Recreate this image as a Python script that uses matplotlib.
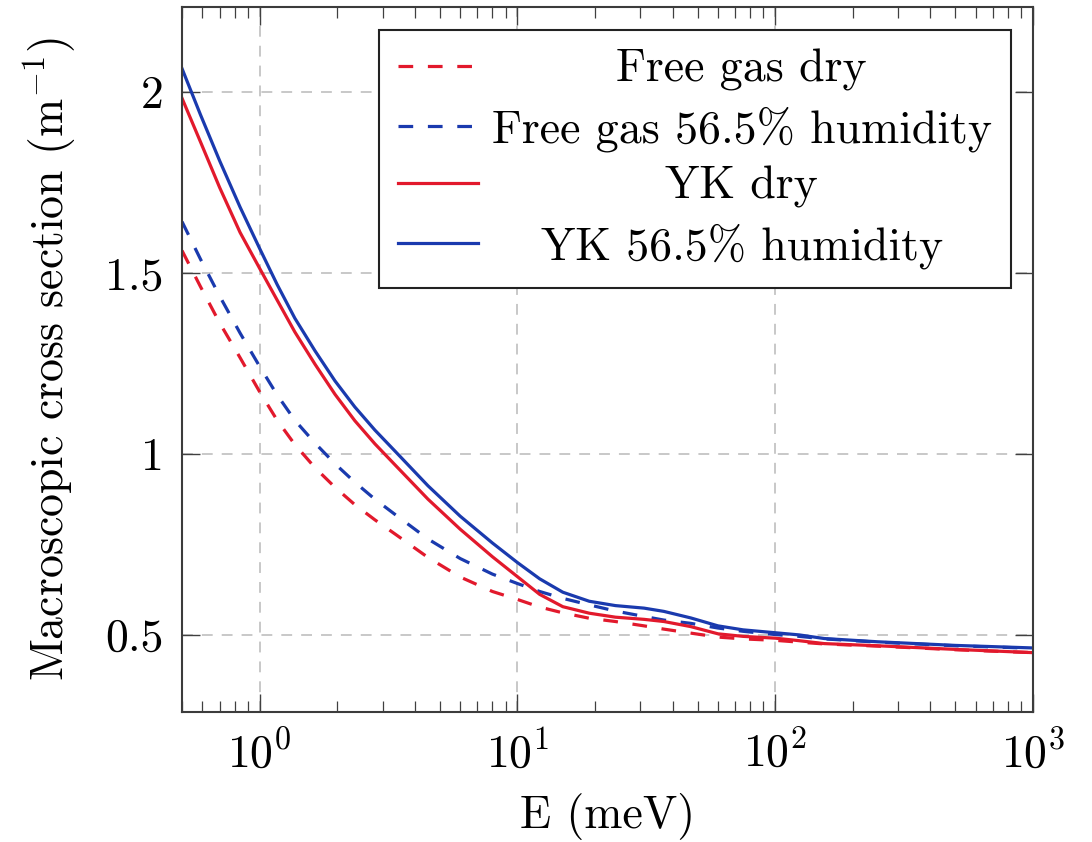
import matplotlib
matplotlib.use("Agg")
import matplotlib.pyplot as plt
import numpy as np
from matplotlib.ticker import LogLocator, FixedLocator, FuncFormatter, NullFormatter

plt.rcParams['font.family'] = 'cmr10'
plt.rcParams['mathtext.fontset'] = 'cm'
plt.rcParams['axes.formatter.use_mathtext'] = True

# energy grid (meV)
energy = [0.5, 0.59, 0.7, 0.84, 1.0, 1.17, 1.37, 1.64, 1.96, 2.34, 2.8, 3.35, 4.5, 6.0, 8.0,
          10.0, 12.2, 15.0, 19.0, 24.0, 31.0, 37.0, 47.0, 60.0, 75.0, 100.0, 124.0, 155.0,
          250.0, 500.0, 1000.0]

free_gas_dry = [1.562, 1.462, 1.362, 1.266, 1.172, 1.093, 1.026, 0.962, 0.908, 0.860, 0.818, 0.779,
                0.714, 0.660, 0.620, 0.598, 0.577, 0.561, 0.546, 0.537, 0.525, 0.516, 0.505, 0.494,
                0.489, 0.485, 0.480, 0.475, 0.469, 0.459, 0.451]
free_gas_humid = [1.642, 1.538, 1.436, 1.334, 1.242, 1.163, 1.093, 1.030, 0.973, 0.922, 0.875, 0.833,
                  0.765, 0.711, 0.668, 0.642, 0.620, 0.601, 0.583, 0.566, 0.551, 0.541, 0.532, 0.519,
                  0.510, 0.501, 0.496, 0.489, 0.480, 0.470, 0.463]
yk_dry = [1.983, 1.862, 1.736, 1.612, 1.513, 1.425, 1.337, 1.248, 1.165, 1.092, 1.028, 0.970,
          0.875, 0.792, 0.716, 0.661, 0.612, 0.578, 0.560, 0.549, 0.543, 0.537, 0.523, 0.503,
          0.496, 0.491, 0.484, 0.476, 0.470, 0.460, 0.451]
yk_humid = [2.065, 1.937, 1.810, 1.682, 1.568, 1.468, 1.375, 1.285, 1.202, 1.130, 1.066, 1.008,
            0.912, 0.828, 0.754, 0.700, 0.655, 0.618, 0.593, 0.581, 0.574, 0.565, 0.547, 0.525,
            0.514, 0.506, 0.500, 0.490, 0.481, 0.471, 0.464]

labels = ['Free gas dry', 'Free gas 56.5% humidity', 'YK dry', 'YK 56.5% humidity']
y_ticks = [0.5, 1.0, 1.5, 2.0]

RED = '#e2192c'
BLUE = '#1a3aae'
FS = 33

fig = plt.figure(figsize=(10.92, 8.42), dpi=100)
ax = fig.add_axes([182 / 1092, 1 - 712 / 842, 851 / 1092, 705 / 842])

dash = (0, (4.6, 4.6))
ax.plot(energy, free_gas_dry, color=RED, lw=2.3, ls=dash, label=labels[0])
ax.plot(energy, free_gas_humid, color=BLUE, lw=2.3, ls=dash, label=labels[1])
ax.plot(energy, yk_dry, color=RED, lw=2.3, label=labels[2])
ax.plot(energy, yk_humid, color=BLUE, lw=2.3, label=labels[3])

ax.set_xscale('log')
ax.set_xlim(0.5, 1000)
ax.set_ylim(0.287, 2.235)

ax.xaxis.set_major_locator(LogLocator(base=10, numticks=10))
ax.xaxis.set_minor_locator(LogLocator(base=10, subs=np.arange(2, 10), numticks=20))
ax.xaxis.set_minor_formatter(NullFormatter())
ax.yaxis.set_major_locator(FixedLocator(y_ticks))
ax.yaxis.set_major_formatter(FuncFormatter(lambda v, p: '%g' % v))

ax.tick_params(which='both', direction='in', top=True, right=True, colors='#404040',
               labelcolor='black', labelsize=FS)
ax.tick_params(which='major', length=13, width=1.0, pad=13)
ax.tick_params(which='minor', length=8, width=0.9)

ax.grid(True, which='major', color='#c4c4c4', lw=1.3, ls=(0, (6, 5)))
ax.set_axisbelow(True)
for s in ax.spines.values():
    s.set_color('#3c3c3c')
    s.set_linewidth(1.5)

ax.set_xlabel('E (meV)', fontsize=FS, labelpad=12)
ax.set_ylabel('Macroscopic cross section (m$^{-1}$)', fontsize=FS, labelpad=20)

leg = ax.legend(loc='upper right', bbox_to_anchor=(1 - 22 / 851, 1 - 23 / 705),
                borderaxespad=0, fontsize=FS, fancybox=False, framealpha=1,
                edgecolor='#222222', handlelength=1.75, handletextpad=0.3,
                labelspacing=0.32, borderpad=0.42)
leg.get_frame().set_linewidth(1.5)

# centre the legend texts in their column, like pgfplots
fig.canvas.draw()
texts = leg.get_texts()
widths = [t.get_window_extent().width for t in texts]
wmax = max(widths)
for t, w in zip(texts, widths):
    t.set_x((wmax - w) / 2)

fig.savefig('out.png', dpi=100)
